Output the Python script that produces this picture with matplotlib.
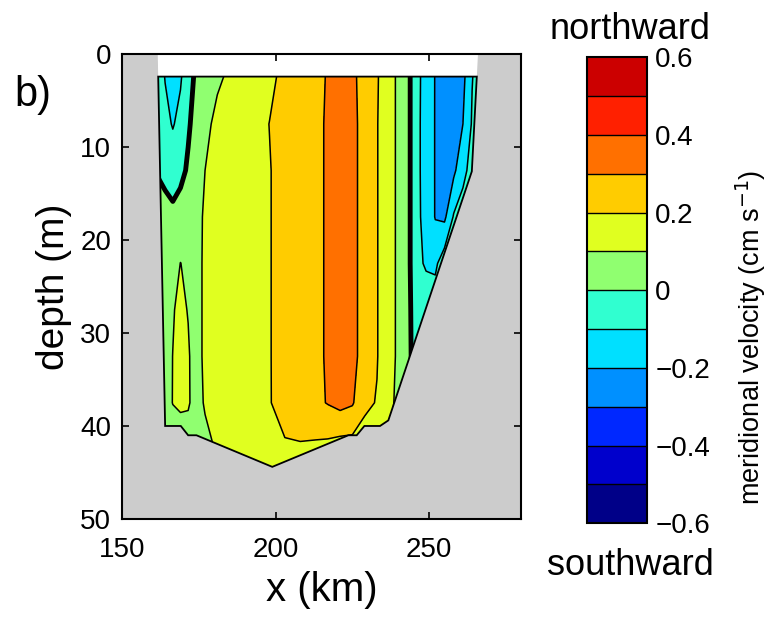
import matplotlib
matplotlib.use("Agg")
import matplotlib.pyplot as plt
from matplotlib.colors import ListedColormap, BoundaryNorm
from matplotlib.patches import Polygon
import numpy as np

plt.rcParams["font.family"] = ["Liberation Sans", "DejaVu Sans"]

# section grid: x stations (km) and depths (m)
x_km = [161, 164, 166.5, 169, 171.5, 174, 177, 181, 186, 192, 198, 203, 208, 213, 217,
        221, 225, 229, 233, 237, 240, 243, 246, 249, 252, 255, 258, 261, 264, 266.5]
depth_m = [2, 7.5, 12.5, 17.5, 22.5, 27.5, 32.5, 37.5, 42.5, 45]

# meridional velocity (cm/s), one row per depth
velocity = [
    [-0.05, -0.105, -0.15, -0.11, -0.06, 0.02, 0.05, 0.085, 0.115, 0.15, 0.185, 0.215, 0.25, 0.28, 0.305,
     0.35, 0.32, 0.26, 0.21, 0.13, 0.085, 0.03, -0.08, -0.13, -0.205, -0.26, -0.27, -0.23, -0.105, -0.06],
    [-0.04, -0.08, -0.105, -0.08, -0.015, 0.04, 0.08, 0.12, 0.14, 0.17, 0.201, 0.225, 0.255, 0.28, 0.31,
     0.35, 0.325, 0.265, 0.205, 0.13, 0.085, 0.03, -0.08, -0.135, -0.205, -0.265, -0.26, -0.2, -0.09, -0.05],
    [-0.003, -0.03, -0.06, -0.03, 0.015, 0.06, 0.1, 0.125, 0.15, 0.175, 0.197, 0.225, 0.255, 0.28, 0.31,
     0.345, 0.325, 0.265, 0.205, 0.13, 0.085, 0.03, -0.08, -0.135, -0.205, -0.25, -0.22, -0.13, -0.06, -0.05],
    [0.04, 0.04, 0.03, 0.05, 0.06, 0.075, 0.11, 0.13, 0.15, 0.175, 0.197, 0.225, 0.255, 0.28, 0.31,
     0.345, 0.325, 0.265, 0.205, 0.13, 0.085, 0.03, -0.08, -0.13, -0.205, -0.22, -0.09, -0.05, -0.05, -0.05],
    [0.06, 0.06, 0.07, 0.101, 0.085, 0.08, 0.11, 0.13, 0.15, 0.175, 0.197, 0.225, 0.255, 0.28, 0.31,
     0.345, 0.325, 0.265, 0.205, 0.13, 0.085, 0.03, -0.08, -0.11, -0.12, -0.04, -0.05, -0.05, -0.05, -0.05],
    [0.07, 0.08, 0.097, 0.11, 0.098, 0.08, 0.11, 0.13, 0.15, 0.175, 0.197, 0.225, 0.255, 0.28, 0.31,
     0.345, 0.325, 0.265, 0.205, 0.13, 0.085, 0.03, -0.06, -0.05, -0.04, -0.04, -0.05, -0.05, -0.05, -0.05],
    [0.07, 0.085, 0.1005, 0.112, 0.105, 0.08, 0.11, 0.13, 0.15, 0.175, 0.197, 0.225, 0.255, 0.28, 0.31,
     0.345, 0.325, 0.265, 0.205, 0.13, 0.085, 0.03, -0.05, -0.05, -0.05, -0.05, -0.05, -0.05, -0.05, -0.05],
    [0.07, 0.085, 0.101, 0.108, 0.106, 0.08, 0.105, 0.13, 0.15, 0.175, 0.196, 0.23, 0.25, 0.28, 0.305,
     0.33, 0.31, 0.22, 0.195, 0.12, 0.08, 0.03, -0.05, -0.05, -0.05, -0.05, -0.05, -0.05, -0.05, -0.05],
    [0.06, 0.07, 0.075, 0.07, 0.07, 0.075, 0.085, 0.105, 0.13, 0.15, 0.16, 0.19, 0.19, 0.18, 0.17,
     0.15, 0.15, 0.15, 0.15, 0.1, 0.07, 0.03, -0.05, -0.05, -0.05, -0.05, -0.05, -0.05, -0.05, -0.05],
    [0.06, 0.07, 0.07, 0.07, 0.07, 0.07, 0.08, 0.1, 0.12, 0.14, 0.15, 0.17, 0.18, 0.18, 0.17,
     0.15, 0.14, 0.14, 0.14, 0.1, 0.07, 0.03, -0.05, -0.05, -0.05, -0.05, -0.05, -0.05, -0.05, -0.05],
]

# channel cross-section outline (water), surface to bottom
water_x = [161.6, 164.0, 169.1, 171.5, 174.2, 198.9, 223.7, 226.4, 228.9, 234.0, 236.7, 263.9, 265.9]
water_depth = [0, 40, 40, 41, 41, 44.4, 41, 41, 40, 40, 39.4, 12.6, 0]
top_gap = 2.4  # no data above this depth

levels = np.round(np.arange(-0.6, 0.61, 0.1), 2)
colors = ["#000088", "#0000cc", "#0028ff", "#0090ff", "#00e0ff", "#30ffd0",
          "#90ff70", "#e0ff20", "#ffcc00", "#ff7000", "#ff2000", "#cc0000"]
cmap = ListedColormap(colors)
norm = BoundaryNorm(levels, cmap.N)

fig = plt.figure(figsize=(7.78, 6.17), dpi=100)
ax = fig.add_axes([0.157, 0.159, 0.513, 0.753])
ax.set_facecolor("#cccccc")

# white water column above the data
ax.add_patch(Polygon(np.column_stack([water_x, water_depth]), closed=True,
                     facecolor="white", edgecolor="none", zorder=1))

# data polygon: water outline cut at top_gap
wx = np.array(water_x, dtype=float)
wd = np.array(water_depth, dtype=float)
x_left = wx[0] + (wx[1] - wx[0]) * top_gap / wd[1]
x_right = wx[-1] + (wx[-2] - wx[-1]) * top_gap / wd[-2]
data_x = np.concatenate([[x_left], wx[1:-1], [x_right]])
data_d = np.concatenate([[top_gap], wd[1:-1], [top_gap]])
data_poly = Polygon(np.column_stack([data_x, data_d]), closed=True,
                    facecolor="none", edgecolor="black", linewidth=1.3, zorder=5)
ax.add_patch(data_poly)

X, Y = np.meshgrid(x_km, depth_m)
V = np.array(velocity)

cf = ax.contourf(X, Y, V, levels=levels, cmap=cmap, norm=norm, zorder=2)
cl = ax.contour(X, Y, V, levels=levels[levels != 0], colors="black", linewidths=1.1,
                linestyles="solid", negative_linestyles="solid", zorder=3)
c0 = ax.contour(X, Y, V, levels=[0], colors="black", linewidths=3.5, zorder=4)
for c in (cf, cl, c0):
    c.set_clip_path(data_poly)

ax.set_xlim(150, 280)
ax.set_ylim(50, 0)
ax.set_xticks([150, 200, 250])
ax.set_yticks([0, 10, 20, 30, 40, 50])
ax.tick_params(direction="in", top=True, right=True, length=5, width=1.2,
               labelsize=20, pad=8)
ax.tick_params(axis="x", pad=13)
for s in ax.spines.values():
    s.set_linewidth(1.5)
ax.set_xlabel("x (km)", fontsize=29, labelpad=6)
ax.set_ylabel("depth (m)", fontsize=28, labelpad=6)

fig.text(0.018, 0.828, "b)", fontsize=30)

cax = fig.add_axes([0.7545, 0.152, 0.077, 0.755])
cb = fig.colorbar(cf, cax=cax, drawedges=True)
cb.set_ticks([-0.6, -0.4, -0.2, 0, 0.2, 0.4, 0.6])
cb.set_ticklabels(["\u22120.6", "\u22120.4", "\u22120.2", "0", "0.2", "0.4", "0.6"])
cb.ax.minorticks_off()
cb.ax.tick_params(which="both", length=0, labelsize=20, pad=6)
cb.outline.set_linewidth(1.5)
cb.dividers.set_linewidth(1.0)
cb.set_label("meridional velocity (cm s$^{-1}$)", fontsize=19.5)
cb.ax.yaxis.set_label_coords(2.45, 0.40)

fig.text(0.81, 0.952, "northward", fontsize=26, ha="center", va="center")
fig.text(0.81, 0.083, "southward", fontsize=26, ha="center", va="center")

fig.savefig("out.png", dpi=100)
